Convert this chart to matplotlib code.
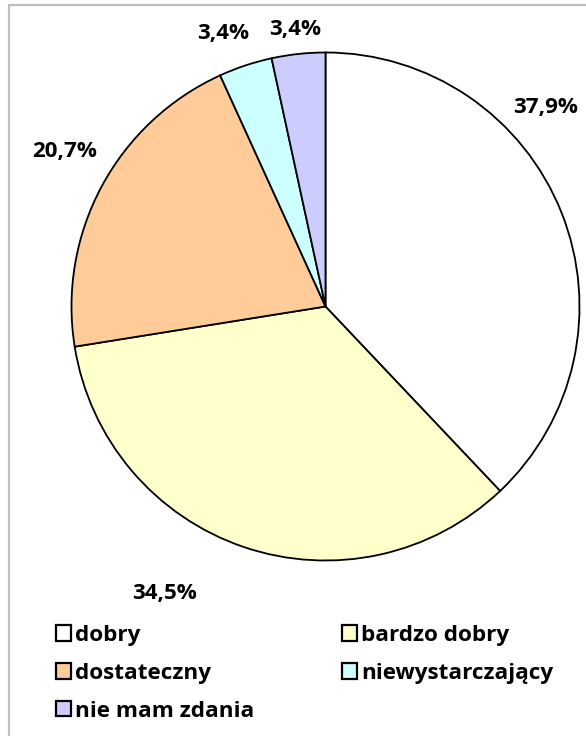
import matplotlib
matplotlib.use("Agg")
import matplotlib.pyplot as plt
from matplotlib.patches import Rectangle

categories = ["dobry", "bardzo dobry", "dostateczny", "niewystarczający", "nie mam zdania"]
values = [37.9, 34.5, 20.7, 3.4, 3.4]
labels = ["37,9%", "34,5%", "20,7%", "3,4%", "3,4%"]
colors = ["#FFFFFF", "#FFFFCC", "#FFCC99", "#CCFFFF", "#CCCCFF"]
# label centres in pixels from top-left (styling)
label_px = [(546, 107), (165, 593), (65, 152), (223, 33), (295, 29)]

plt.rcParams['font.family'] = ['Open Sans', 'DejaVu Sans']
W, H = 586, 736
fig = plt.figure(figsize=(W / 100, H / 100), dpi=100)
ax = fig.add_axes([0, 0, 1, 1])
ax.set_xlim(0, W)
ax.set_ylim(0, H)
ax.set_aspect('equal')
ax.axis('off')

cx, cy, r = 325.5, H - 306.5, 254
wedges, _ = ax.pie(values, colors=colors, startangle=90, counterclock=False,
                   center=(cx, cy), radius=r,
                   wedgeprops=dict(edgecolor='black', linewidth=1.3))
ax.set_xlim(0, W)
ax.set_ylim(0, H)

renderer = fig.canvas.get_renderer()


def text_width(s, size):
    t = ax.text(0, 0, s, fontsize=size, fontweight='bold')
    w = t.get_window_extent(renderer).width
    t.remove()
    return w


# label font fitted so "37,9%" is about 65 px wide
fs = 10 * 65 / text_width("37,9%", 10)
# legend font fitted so "dostateczny" is about 136 px wide
lfs = 10 * 136 / text_width("dostateczny", 10)

for lab, (px, py) in zip(labels, label_px):
    ax.text(px, H - py, lab, ha='center', va='center',
            fontsize=fs, fontweight='bold', color='black')

# border
fig.patches.append(Rectangle((9.5 / W, -0.05), 2, 1.05 - 5.5 / H, transform=fig.transFigure,
                             fill=False, edgecolor='#BFBFBF', linewidth=1.6))

# legend geometry (pixels)
em = lfs * 100 / 72
sq_x, col2_x, row1_top = 56, 342, 625
sq, gap = 15, 4
handlelen, textpad = sq / em, gap / em
col1_text_end = sq_x + sq + gap + text_width("nie mam zdania", lfs)
colspace = (col2_x - col1_text_end) / em

order = [0, 2, 4, 1, 3]
leg = fig.legend([wedges[i] for i in order], [categories[i] for i in order],
                 ncol=2, loc='upper left', bbox_to_anchor=(sq_x / W, 1 - row1_top / H),
                 frameon=False, prop=dict(size=lfs, weight='bold'),
                 handlelength=handlelen, handleheight=handlelen, handletextpad=textpad,
                 columnspacing=colspace, labelspacing=0.75, borderaxespad=0, borderpad=0)
for h in leg.legend_handles:
    h.set_linewidth(1.6)

fig.savefig("out.png", dpi=100)
